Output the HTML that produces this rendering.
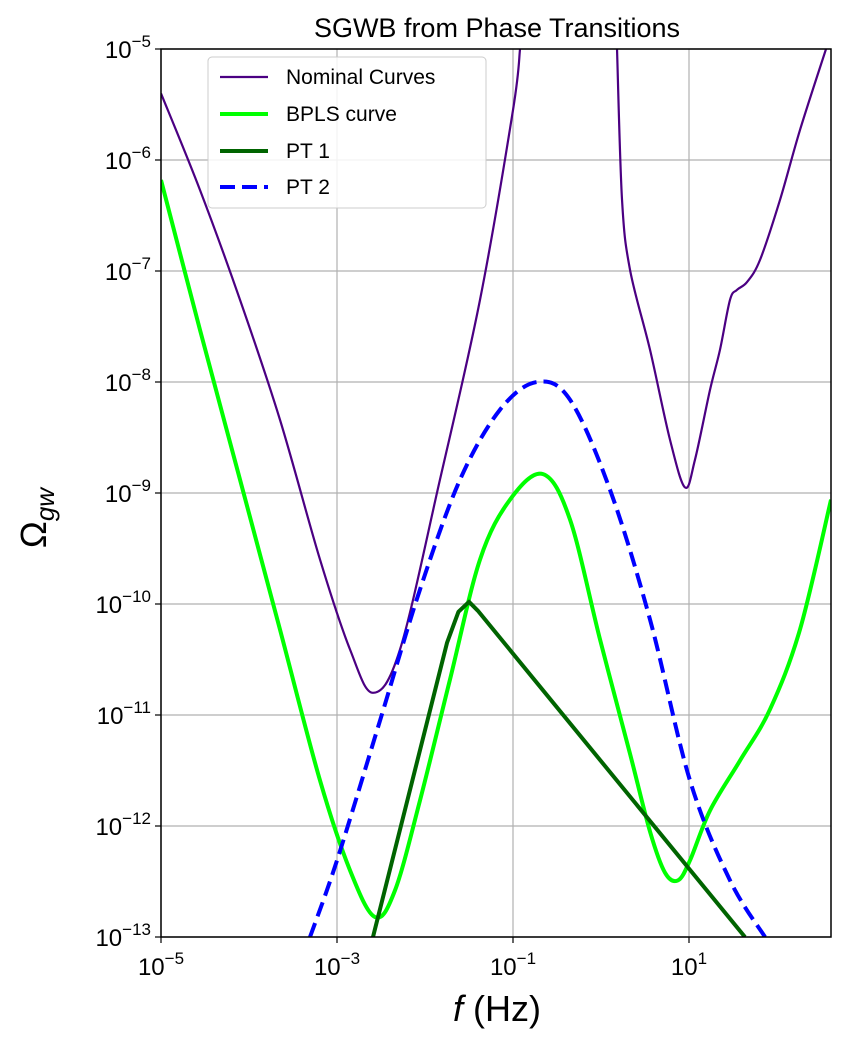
<!DOCTYPE html>
<html><head><meta charset="utf-8"><style>
body{margin:0;background:#fff}
svg{font-family:"Liberation Sans","DejaVu Sans",sans-serif}
</style></head><body>
<svg id="chart" width="846" height="1043" viewBox="0 0 846 1043"></svg>
<script>
// data in log10 units
const xTicks=[-5,-3,-1,1];
const yTicks=[-5,-6,-7,-8,-9,-10,-11,-12,-13];
const nominalF1=[-5,-4.557,-4.102,-3.648,-3.193,-2.852,-2.591,-2.284,-1.83,-1.375,-1.0,-0.92];
const nominalO1=[-5.40,-6.27,-7.26,-8.34,-9.60,-10.41,-10.80,-10.41,-8.88,-7.26,-5.55,-5.0];
const nominalF2=[0.182,0.239,0.33,0.557,0.784,0.955,1.068,1.239,1.352,1.466,1.545,1.659,1.807,2.034,2.261,2.557];
const nominalO2=[-5.0,-6.36,-6.99,-7.71,-8.52,-8.95,-8.70,-8.07,-7.71,-7.26,-7.17,-7.10,-6.90,-6.36,-5.73,-5.0];
const bplsF=[-5,-4.557,-4.102,-3.648,-3.193,-2.852,-2.568,-2.341,-2.057,-1.716,-1.375,-1.034,-0.659,-0.352,-0.011,0.33,0.557,0.727,0.875,1.011,1.239,1.58,1.92,2.261,2.614];
const bplsO=[-6.18,-7.53,-8.88,-10.23,-11.59,-12.40,-12.82,-12.58,-11.77,-10.68,-9.60,-9.06,-8.83,-9.24,-10.32,-11.35,-12.05,-12.42,-12.49,-12.31,-11.86,-11.41,-10.95,-10.23,-9.06];
const pt1F=[-2.591,-1.75,-1.62,-1.50,-1.40,1.636];
const pt1O=[-13.0,-10.35,-10.07,-9.98,-10.06,-13.0];
const pt2F=[-3.307,-3.0,-2.511,-2.057,-1.602,-1.148,-0.727,-0.352,0.102,0.557,1.011,1.466,1.864];
const pt2O=[-13,-12.31,-11.05,-9.87,-8.88,-8.25,-8.0,-8.16,-8.97,-10.14,-11.59,-12.49,-13];

const L=161,R=831,T=49,B=937;
const X=v=>L+(v+5)*88;
const Y=v=>T+(-5-v)*111;
const svg=document.getElementById('chart');
const NS='http://www.w3.org/2000/svg';
function mk(tag,attrs,parent){const e=document.createElementNS(NS,tag);for(const k in attrs)e.setAttribute(k,attrs[k]);(parent||svg).appendChild(e);return e;}

const defs=mk('defs',{});
const cp=mk('clipPath',{id:'clip'},defs);
mk('rect',{x:L,y:T,width:R-L,height:B-T},cp);

xTicks.forEach(t=>{const g=mk('line',{x1:X(t),x2:X(t),y1:T,y2:B,stroke:'#b0b0b0','stroke-width':1.2});

});
yTicks.forEach(t=>{const g=mk('line',{x1:L,x2:R,y1:Y(t),y2:Y(t),stroke:'#b0b0b0','stroke-width':1.2});

});

function path(fs,os){
  const p=fs.map((f,i)=>[X(f),Y(os[i])]);
  let d='M'+p[0][0]+','+p[0][1];
  for(let i=0;i<p.length-1;i++){
    const p0=p[i-1]||p[i],p1=p[i],p2=p[i+1],p3=p[i+2]||p2;
    const c1=[p1[0]+(p2[0]-p0[0])/6,p1[1]+(p2[1]-p0[1])/6];
    const c2=[p2[0]-(p3[0]-p1[0])/6,p2[1]-(p3[1]-p1[1])/6];
    d+=` C${c1[0]},${c1[1]} ${c2[0]},${c2[1]} ${p2[0]},${p2[1]}`;
  }
  return d;
}
function lpath(fs,os){return 'M'+fs.map((f,i)=>X(f)+','+Y(os[i])).join(' L');}
const g=mk('g',{'clip-path':'url(#clip)'});
let e;
e=mk('path',{d:path(nominalF1,nominalO1),fill:'none',stroke:'#4b0082','stroke-width':2.2},g);


e=mk('path',{d:path(nominalF2,nominalO2),fill:'none',stroke:'#4b0082','stroke-width':2.2},g);


e=mk('path',{d:path(bplsF,bplsO),fill:'none',stroke:'#00ff00','stroke-width':4},g);


e=mk('path',{d:path(pt2F,pt2O),fill:'none',stroke:'#0000ff','stroke-width':4,'stroke-dasharray':'15,7'},g);


e=mk('path',{d:lpath(pt1F,pt1O),fill:'none',stroke:'#006400','stroke-width':4,'stroke-linejoin':'round'},g);



e=mk('rect',{x:L,y:T,width:R-L,height:B-T,fill:'none',stroke:'#000','stroke-width':1.5});



xTicks.forEach(t=>{
  mk('line',{x1:X(t),x2:X(t),y1:B,y2:B+6,stroke:'#000','stroke-width':1.2});
  const tx=mk('text',{x:X(t),y:B+38,'text-anchor':'middle','font-size':24});
  tx.innerHTML='10<tspan dy="-11" font-size="17">'+(t<0?'\u2212'+(-t):t)+'</tspan>';
  
  
});
yTicks.forEach(t=>{
  mk('line',{x1:L-6,x2:L,y1:Y(t),y2:Y(t),stroke:'#000','stroke-width':1.2});
  const tx=mk('text',{x:L-10,y:Y(t)+9,'text-anchor':'end','font-size':24});
  tx.innerHTML='10<tspan dy="-11" font-size="17">\u2212'+(-t)+'</tspan>';
  
  
});
</script>
<svg width="846" height="1043" style="position:absolute;left:0;top:0">
<text x="497" y="37" text-anchor="middle" font-size="27" font-family="Liberation Sans, sans-serif">SGWB from Phase Transitions</text>
<text x="497" y="1021" text-anchor="middle" font-size="36" font-family="Liberation Sans, sans-serif"><tspan font-style="italic">f</tspan> (Hz)</text>
<text transform="translate(46,518) rotate(-90)" text-anchor="middle" font-size="36" font-family="Liberation Sans, sans-serif">Ω<tspan font-size="26" font-style="italic" dy="8">gw</tspan></text>
<g font-family="Liberation Sans, sans-serif" font-size="21">
<rect x="208" y="57" width="278" height="151" rx="4" fill="#fff" fill-opacity="0.85" stroke="#ccc"/>
<line x1="220" x2="268" y1="77" y2="77" stroke="#4b0082" stroke-width="2.2"/><text x="286" y="84">Nominal Curves</text>
<line x1="220" x2="268" y1="114" y2="114" stroke="#00ff00" stroke-width="4"/><text x="286" y="121">BPLS curve</text>
<line x1="220" x2="268" y1="151" y2="151" stroke="#006400" stroke-width="4"/><text x="286" y="158">PT 1</text>
<line x1="220" x2="268" y1="187" y2="187" stroke="#0000ff" stroke-width="4" stroke-dasharray="15,7"/><text x="286" y="194">PT 2</text>
</g>
</svg>
</body></html>
